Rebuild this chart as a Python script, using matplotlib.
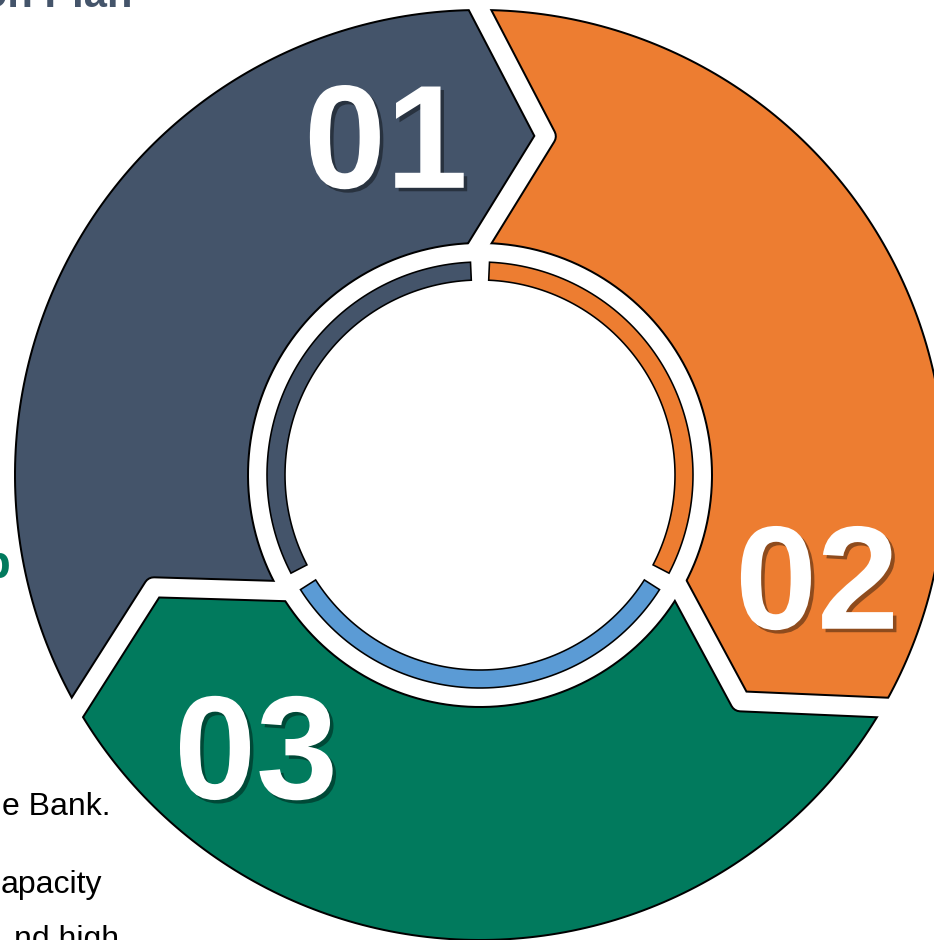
import numpy as np
import matplotlib.pyplot as plt
import matplotlib.patheffects as pe
from matplotlib.patches import Polygon, Wedge

plt.rcParams['font.family'] = ['Liberation Sans', 'DejaVu Sans']

# three equal steps of the cycle, drawn clockwise from the top
labels = ["01", "02", "03"]
shares = [1, 1, 1]
colors = ["#44546A", "#ED7D31", "#017A5D"]
ring_colors = ["#44546A", "#ED7D31", "#5B9BD5"]

# slide text that sits beside the cycle
side_text = ["on Plan", "p", "e Bank.", "apacity", "nd high"]

W, H = 934, 940
fig = plt.figure(figsize=(W / 100, H / 100), dpi=100)
ax = fig.add_axes([0, 0, 1, 1])
ax.set_xlim(0, W)
ax.set_ylim(H, 0)
ax.set_aspect('equal')
ax.axis('off')

cx, cy = 480, 475
R_out, R_in = 465, 232
R_tip, tip_shift = 345, 11
ring_out, ring_in = 213, 195
gap = 18        # white gap between segments, px
px = 72 / 100   # px -> points


def pt(theta, r):
    t = np.radians(theta)
    return np.array([cx + r * np.cos(t), cy - r * np.sin(t)])


# angles of each segment: trailing edge (ccw side) -> leading edge (cw side)
fracs = np.array(shares) / sum(shares)
starts = 210 - 360 * np.concatenate([[0], np.cumsum(fracs)[:-1]])
ends = starts - 360 * fracs

annulus = Wedge((cx, cy), R_out, 0, 360, width=R_out - R_in, transform=ax.transData)
annulus_wide = Wedge((cx, cy), R_out + 4, 0, 360, width=R_out - R_in + 8,
                     transform=ax.transData)

for i in range(len(labels)):
    t_s, t_e = starts[i], ends[i]
    outer = [pt(a, R_out) for a in np.linspace(t_s, t_e, 80)]
    inner = [pt(a, R_in) for a in np.linspace(t_e, t_s, 60)]
    verts = outer + [pt(t_e - tip_shift, R_tip)] + inner + [pt(t_s - tip_shift, R_tip)]
    ax.add_patch(Polygon(verts, closed=True, facecolor=colors[i], edgecolor='none', zorder=2))

# outlines of the big ring
for r in (R_out, R_in):
    a = np.linspace(0, 360, 400)
    xy = np.array([pt(t, r) for t in a])
    ax.plot(xy[:, 0], xy[:, 1], color='black', lw=2 * px, zorder=3)

# chevron gaps between the segments
for b in starts:
    p_o, p_t, p_i = pt(b, R_out), pt(b - tip_shift, R_tip), pt(b, R_in)
    line = np.array([p_o + (p_o - p_t) * 0.25, p_t, p_i + (p_i - p_t) * 0.4])
    blk, = ax.plot(line[:, 0], line[:, 1], color='black', lw=(gap + 4) * px,
                   solid_joinstyle='round', solid_capstyle='butt', zorder=4)
    blk.set_clip_path(annulus)
    wht, = ax.plot(line[:, 0], line[:, 1], color='white', lw=gap * px,
                   solid_joinstyle='round', solid_capstyle='butt', zorder=5)
    wht.set_clip_path(annulus_wide)

# thin inner ring, split at the same angles
half_gap = np.degrees(9.5 / ring_out)
for i in range(len(labels)):
    t_s, t_e = starts[i] - half_gap, ends[i] + half_gap
    outer = [pt(a, ring_out) for a in np.linspace(t_s, t_e, 80)]
    inner = [pt(a, ring_in) for a in np.linspace(t_e, t_s, 80)]
    ax.add_patch(Polygon(outer + inner, closed=True, facecolor=ring_colors[i],
                         edgecolor='black', lw=1.6 * px, zorder=6))

# step numbers, placed just behind each segment's leading tip
label_offset = [15.5, 13.2, 20.5]
cap_h = 104
shadow = [pe.withSimplePatchShadow(offset=(2.5, -2.5), shadow_rgbFace='black', alpha=0.4)]
for i, lab in enumerate(labels):
    x, y = pt(ends[i] + label_offset[i], 352)
    ax.text(x, y + cap_h / 2, lab, color='white', fontsize=106, fontweight='bold',
            ha='center', va='baseline', zorder=7, path_effects=shadow)

# text beside the cycle
ax.text(133, 7, side_text[0], ha='right', va='baseline', fontsize=30,
        fontweight='bold', color='#44546A', zorder=1)
ax.text(11, 578, side_text[1], ha='right', va='baseline', fontsize=34,
        fontweight='bold', color='#017A5D', zorder=1)
ax.text(111, 815, side_text[2], ha='right', va='baseline', fontsize=23, color='black', zorder=1)
ax.text(102, 893, side_text[3], ha='right', va='baseline', fontsize=23, color='black', zorder=1)
ax.text(119, 948, side_text[4], ha='right', va='baseline', fontsize=23, color='black', zorder=1)

fig.savefig("out.png", dpi=100)
